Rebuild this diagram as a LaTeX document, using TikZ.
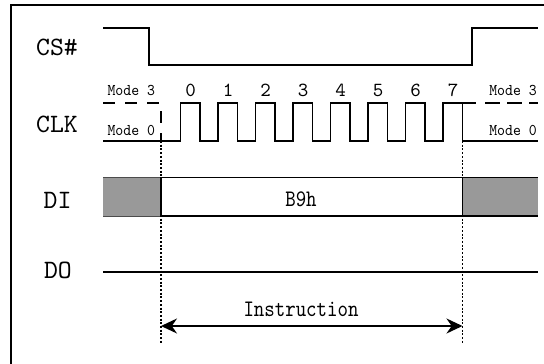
\documentclass[tikz,border=0pt]{standalone}
\usepackage{fontspec}
\usetikzlibrary{arrows.meta}
\newfontfamily\labfont{lmmono10-regular.otf}
\newfontfamily\condfont{lmmono10-regular.otf}[FakeStretch=0.84]
\newfontfamily\modefont{lmmono10-regular.otf}[FakeStretch=0.92]
\definecolor{busgray}{RGB}{153,153,153}
\begin{document}
\begin{tikzpicture}[x=1pt,y=-1pt,
  sig/.style={line width=1.6pt},
  frameline/.style={line width=1.8pt},
  guide/.style={line width=1.4pt, dash pattern=on 2pt off 1.7pt},
  modedash/.style={line width=1.6pt, dash pattern=on 12pt off 10pt},
  siglabel/.style={inner sep=0pt, anchor=base, font=\labfont\fontsize{26.5}{30}\selectfont},
  numlabel/.style={inner sep=0pt, anchor=base, font=\labfont\fontsize{20}{24}\selectfont},
  modelabel/.style={inner sep=0pt, font=\modefont\fontsize{16.4}{18}\selectfont},
  condlabel/.style={inner sep=0pt, anchor=base, font=\condfont\fontsize{23.7}{26}\selectfont},
  tipstyle/.style={line width=1.8pt, {Stealth[length=16pt,width=15pt]}-{Stealth[length=16pt,width=15pt]}}
]
\useasboundingbox (0,0) rectangle (544,364);
% frame
\draw[frameline] (11,364) -- (11,5) -- (544,5);
% labels
\node[siglabel] (cs) at (57,55) {CS\#};
\node[siglabel] (clk) at (57,132) {CLK};
\node[siglabel] (di) at (57.5,208) {DI};
\node[siglabel] (do) at (58,278.5) {DO};
% CS#
\draw[sig] (103,28) -- (149,28) -- (149,65) -- (472,65) -- (472,28) -- (538,28);
% CLK
\draw[sig] (103,141) \foreach \i in {0,...,7} { -- ({180.5+37.5*\i},141) -- ({180.5+37.5*\i},103) -- ({200+37.5*\i},103) -- ({200+37.5*\i},141) } -- (538,141);
\draw[modedash] (103,103) -- (161,103) -- (161,141);
\draw[sig] (462.5,103) -- (476,103);
\draw[sig, dash pattern=on 15pt off 7pt] (485,103) -- (538,103);
\foreach \i in {0,...,7} {
  \node[numlabel] (d\i) at ({190.5+37.5*\i},96) {\i};
}
\node[modelabel, anchor=base west] (m3l) at (107.3,95) {Mode 3};
\node[modelabel, anchor=base west] (m0l) at (107.3,135) {Mode 0};
\node[modelabel, anchor=base east] (m3r) at (537,95) {Mode 3};
\node[modelabel, anchor=base east] (m0r) at (537,135) {Mode 0};
% DI bus
\fill[busgray] (103,177.5) rectangle (161,216);
\fill[busgray] (462.5,177.5) rectangle (538,216);
\draw[line width=1pt, black!70] (103,177.5) -- (161,177.5) (103,216) -- (161,216);
\draw[line width=1.2pt] (462.5,177.5) -- (538,177.5) (462.5,216) -- (538,216);
\draw[line width=1.4pt] (161,177.5) rectangle (462.5,216);
\node[condlabel] (b9h) at (301,206) {B9h};
% DO
\draw[sig] (103,272) -- (538,272);
% guides
\coordinate (gl1) at (161,141);
\coordinate (gl2) at (161,343);
\coordinate (gr1) at (462.5,141);
\coordinate (gr2) at (462.5,343);
\draw[guide] (gl1) -- (gl2);
\draw[guide] (gr1) -- (gr2);
% instruction arrow
\coordinate (al) at (161,326);
\coordinate (ar) at (462.5,326);
\draw[tipstyle] (al) -- (ar);
\node[condlabel] (instr) at (301,316) {Instruction};
\end{tikzpicture}
\end{document}
